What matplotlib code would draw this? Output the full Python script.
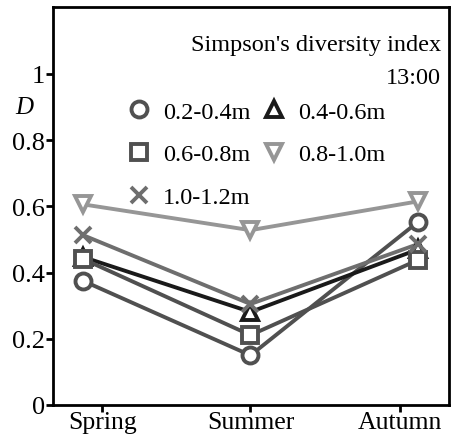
import numpy as np
import matplotlib.pyplot as plt

plt.rcParams['font.family'] = ['Liberation Serif', 'DejaVu Serif']

# data
seasons = ["Spring", "Summer", "Autumn"]
labels = ["0.2-0.4m", "0.4-0.6m", "0.6-0.8m", "0.8-1.0m", "1.0-1.2m"]
d_02_04 = [0.375, 0.150, 0.553]
d_04_06 = [0.447, 0.281, 0.470]
d_06_08 = [0.441, 0.211, 0.438]
d_08_10 = [0.606, 0.528, 0.615]
d_10_12 = [0.513, 0.305, 0.486]
yticks = [0, 0.2, 0.4, 0.6, 0.8, 1]
ytick_labels = ["0", "0.2", "0.4", "0.6", "0.8", "1"]

series = [d_02_04, d_04_06, d_06_08, d_08_10, d_10_12]
markers = ["o", "^", "s", "v", "x"]
colors = ["#505050", "#1a1a1a", "#505050", "#969696", "#6e6e6e"]

x = np.arange(len(seasons))

fig = plt.figure(figsize=(4.51, 4.35), dpi=100)
ax = fig.add_axes([53 / 451, 29 / 435, 396 / 451, 398 / 435])

handles = []
for vals, m, c, lab in zip(series, markers, colors, labels):
    ax.plot(x, vals, color=c, lw=2.8, zorder=2)
    h, = ax.plot(x, vals, ls="none", marker=m, ms=11.5,
                 mfc="white" if m != "x" else c, mec=c, mew=2.8, color=c,
                 label=lab, zorder=3)
    handles.append(h)

ax.set_xlim(-0.179, 2.185)
ax.set_ylim(0, 1.202)
ax.set_xticks([0.115, 1.0, 1.89])
ax.set_xticklabels(seasons, fontsize=18.5)
ax.set_yticks(yticks)
ax.set_yticklabels(ytick_labels, fontsize=19)
ax.tick_params(width=2, length=5, direction="out", pad=1)
ax.tick_params(axis="x", pad=-1)
for s in ax.spines.values():
    s.set_linewidth(2)

ax.text(0.98, 0.905, "Simpson's diversity index", transform=ax.transAxes,
        ha="right", va="center", fontsize=17.5)
ax.text(0.98, 0.822, "13:00", transform=ax.transAxes,
        ha="right", va="center", fontsize=17.5)
ax.text(-0.05, 0.9, "D", transform=(ax.get_yaxis_transform()), ha="right",
        va="center", fontsize=18, style="italic")

# legend fills row by row in the reference
order = [0, 2, 4, 1, 3]
leg = ax.legend(handles=[handles[i] for i in order], ncol=2, loc="upper left",
                bbox_to_anchor=(0.155, 0.795), frameon=False, fontsize=17.5,
                handlelength=1.0, handletextpad=0.5, columnspacing=0.45,
                labelspacing=0.85, borderpad=0)

fig.savefig("out.png", dpi=100)
